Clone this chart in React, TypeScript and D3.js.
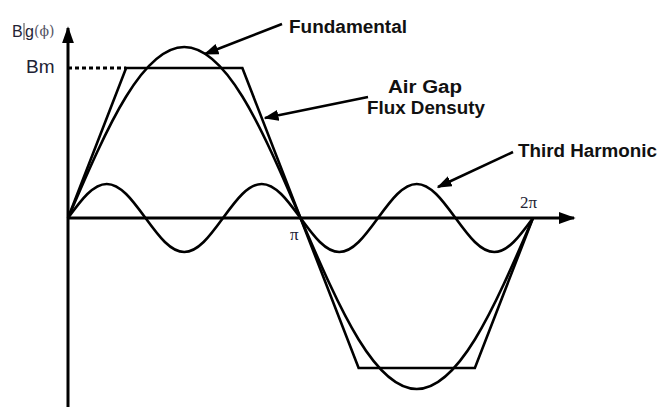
import React from "react";
import * as d3 from "d3";

const PI = Math.PI;

// values (y in units of Bm)
const fundX = [0, PI / 4, PI / 2, (3 * PI) / 4, PI, (5 * PI) / 4, (3 * PI) / 2, (7 * PI) / 4, 2 * PI];
const fundY = [0, 0.81, 1.14, 0.81, 0, -0.81, -1.14, -0.81, 0];

const thirdX = d3.range(25).map((i) => (i * PI) / 12);
const thirdY = [
  0, 0.16, 0.227, 0.16, 0, -0.16, -0.227, -0.16,
  0, 0.16, 0.227, 0.16, 0, -0.16, -0.227, -0.16,
  0, 0.16, 0.227, 0.16, 0, -0.16, -0.227, -0.16, 0,
];

const fluxX = [0, PI / 4, (3 * PI) / 4, PI, (5 * PI) / 4, (7 * PI) / 4, 2 * PI];
const fluxY = [0, 1, 1, 0, -1, -1, 0];

const W = 660;
const H = 407;

export default function App() {
  const x = d3.scaleLinear().domain([0, 2 * PI]).range([68, 533]);
  const y = d3.scaleLinear().domain([0, 1]).range([218, 68]);

  const smooth = d3
    .line<[number, number]>()
    .x((d) => x(d[0]))
    .y((d) => y(d[1]))
    .curve(d3.curveNatural);
  const straight = d3
    .line<[number, number]>()
    .x((d) => x(d[0]))
    .y((d) => y(d[1]));

  const fund = fundX.map((v, i) => [v, fundY[i]] as [number, number]);
  const third = thirdX.map((v, i) => [v, thirdY[i]] as [number, number]);
  const flux = fluxX.map((v, i) => [v, fluxY[i]] as [number, number]);

  const bold = { fontFamily: "'Liberation Sans', Arial, sans-serif", fontWeight: 700, fill: "#111" };

  return (
    <svg
      width={W}
      height={H}
      style={{ position: "absolute", left: 0, top: 0, display: "block", background: "#fff" }}
    >
      <defs>
        <marker id="ah" viewBox="0 0 10 10" refX="9" refY="5" markerWidth="15" markerHeight="11" orient="auto" markerUnits="userSpaceOnUse" preserveAspectRatio="none">
          <path d="M0,0 L10,5 L0,10 z" fill="#000" />
        </marker>
        <marker id="ax" viewBox="0 0 10 10" refX="9" refY="5" markerWidth="17" markerHeight="12" orient="auto" markerUnits="userSpaceOnUse" preserveAspectRatio="none">
          <path d="M0,0 L10,5 L0,10 z" fill="#000" />
        </marker>
      </defs>

      {/* axes */}
      <line x1={x(0)} y1={H} x2={x(0)} y2={28} stroke="#000" strokeWidth={3} markerEnd="url(#ax)" />
      <line x1={x(0)} y1={y(0)} x2={574} y2={y(0)} stroke="#000" strokeWidth={3.2} markerEnd="url(#ax)" />

      {/* Bm dashed */}
      <line x1={x(0)} y1={y(1)} x2={x(PI / 4)} y2={y(1)} stroke="#000" strokeWidth={2.8} strokeDasharray="4,3" />

      {/* curves */}
      <path d={straight(flux) ?? ""} fill="none" stroke="#000" strokeWidth={2.6} strokeLinejoin="miter" />
      <path d={smooth(fund) ?? ""} fill="none" stroke="#000" strokeWidth={2.6} />
      <path d={smooth(third) ?? ""} fill="none" stroke="#000" strokeWidth={2.6} />

      {/* axis labels */}
      <text x={12} y={37} fontFamily="'Liberation Sans', Arial, sans-serif" fontSize={16} fill="#223">B</text>
      <line x1={24} y1={23} x2={24} y2={40} stroke="#444" strokeWidth={1} />
      <text x={25} y={37} fontFamily="'Liberation Sans', Arial, sans-serif" fontSize={16} fill="#223">g</text>
      <text x={34} y={36} fontFamily="'DejaVu Serif', serif" fontSize={14} fill="#556">(ϕ)</text>
      <text x={26} y={73} fontFamily="'Liberation Sans', Arial, sans-serif" fontSize={19} fill="#223">Bm</text>
      <text x={290} y={240} fontFamily="'Liberation Serif', serif" fontSize={17} fill="#223">π</text>
      <text x={520} y={208} fontFamily="'Liberation Serif', serif" fontSize={17} fill="#223">2π</text>

      {/* annotations */}
      <text x={289} y={33} fontSize={18} textLength={118} lengthAdjust="spacingAndGlyphs" {...bold}>Fundamental</text>
      <line x1={282} y1={24} x2={205} y2={54} stroke="#000" strokeWidth={2.6} markerEnd="url(#ah)" />

      <text x={425} y={93} fontSize={18} textAnchor="middle" textLength={74} lengthAdjust="spacingAndGlyphs" {...bold}>Air Gap</text>
      <text x={426} y={114} fontSize={18} textAnchor="middle" textLength={118} lengthAdjust="spacingAndGlyphs" {...bold}>Flux Densuty</text>
      <line x1={368} y1={97} x2={265} y2={118} stroke="#000" strokeWidth={2.6} markerEnd="url(#ah)" />

      <text x={518} y={157} fontSize={18} textLength={139} lengthAdjust="spacingAndGlyphs" {...bold}>Third Harmonic</text>
      <line x1={513} y1={152} x2={438} y2={187} stroke="#000" strokeWidth={2.6} markerEnd="url(#ah)" />
    </svg>
  );
}
